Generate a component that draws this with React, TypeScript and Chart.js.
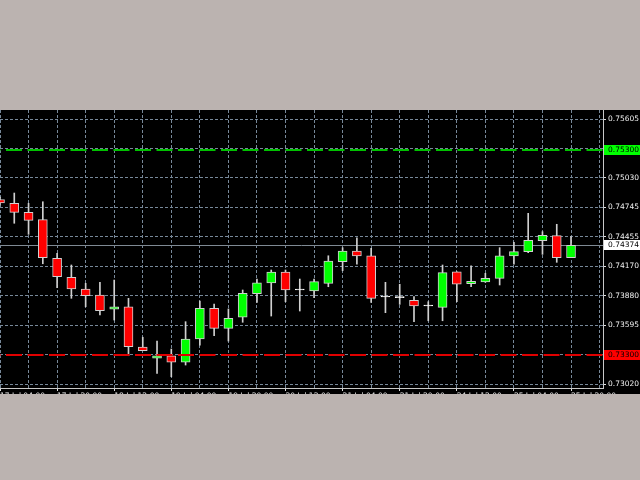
import React, { useEffect, useRef } from 'react';
import Chart from 'chart.js/auto';

// H4 candles (index 0 is the half-hidden one at the left edge)
const opens = [
  0.74820, 0.74783, 0.74695, 0.74623, 0.74246, 0.74061, 0.73947, 0.73888, 0.73749, 0.73774,
  0.73381, 0.73271, 0.73296, 0.73232, 0.73459, 0.73758, 0.73563, 0.73671, 0.73901, 0.74005,
  0.74113, 0.73937, 0.73927, 0.74002, 0.74213, 0.74317, 0.74271, 0.73869, 0.73862, 0.73836,
  0.73781, 0.73768, 0.74115, 0.73998, 0.74015, 0.74051, 0.74269, 0.74311, 0.74418, 0.74467,
  0.74252,
];
const highs = [
  0.74844, 0.74883, 0.74783, 0.74798, 0.74295, 0.74181, 0.74002, 0.74012, 0.74034, 0.73856,
  0.73476, 0.73439, 0.73361, 0.73628, 0.73830, 0.73800, 0.73752, 0.73937, 0.74044, 0.74132,
  0.74132, 0.74044, 0.74044, 0.74271, 0.74350, 0.74447, 0.74344, 0.74012, 0.73993, 0.73872,
  0.73823, 0.74181, 0.74115, 0.74174, 0.74100, 0.74350, 0.74402, 0.74685, 0.74506, 0.74578,
  0.74457,
];
const lows = [
  0.74766, 0.74588, 0.74480, 0.74193, 0.73959, 0.73856, 0.73774, 0.73693, 0.73644, 0.73296,
  0.73345, 0.73124, 0.73091, 0.73205, 0.73400, 0.73491, 0.73439, 0.73622, 0.73817, 0.73683,
  0.73823, 0.73732, 0.73862, 0.73969, 0.74125, 0.74188, 0.73817, 0.73716, 0.73797, 0.73628,
  0.73637, 0.73637, 0.73823, 0.73969, 0.74012, 0.73986, 0.74188, 0.74301, 0.74285, 0.74207,
  0.74252,
];
const closes = [
  0.74786, 0.74695, 0.74617, 0.74252, 0.74067, 0.73947, 0.73881, 0.73735, 0.73774, 0.73384,
  0.73345, 0.73296, 0.73232, 0.73459, 0.73758, 0.73563, 0.73661, 0.73905, 0.74008, 0.74113,
  0.73937, 0.73937, 0.74018, 0.74220, 0.74317, 0.74269, 0.73856, 0.73869, 0.73862, 0.73781,
  0.73781, 0.74106, 0.73993, 0.74022, 0.74051, 0.74271, 0.74311, 0.74422, 0.74471, 0.74252,
  0.74374,
];

// one time label every 4 candles
const xLabels = [
  '17 Jul 04:00', '17 Jul 20:00', '18 Jul 12:00', '19 Jul 04:00', '19 Jul 20:00', '20 Jul 12:00',
  '21 Jul 04:00', '21 Jul 20:00', '24 Jul 12:00', '25 Jul 04:00', '25 Jul 20:00',
];
const yTicks = [0.75605, 0.75318, 0.75030, 0.74745, 0.74455, 0.74170, 0.73880, 0.73595, 0.73308, 0.73020];
const hiddenTicks = [0.75318, 0.73308];

const levelHigh = 0.75300;
const levelLow = 0.73300;
const lastPrice = 0.74374;

const FONT = '"DejaVu Sans", sans-serif';
const GRID = '#778899';

function candleColor(i: number) {
  const o = opens[i], c = closes[i];
  if (c > o) return '#00ff00';
  if (c < o) return '#ff0000';
  return '#ffffff';
}

function hLine(chart: any, value: number, color: string, dash: number[], width: number) {
  const { ctx, chartArea, scales } = chart;
  let y = Math.round(scales.y.getPixelForValue(value));
  if (width % 2 === 1) y += 0.5;
  ctx.save();
  ctx.beginPath();
  ctx.rect(chartArea.left, chartArea.top, chartArea.right - chartArea.left, chartArea.bottom - chartArea.top);
  ctx.clip();
  ctx.beginPath();
  ctx.strokeStyle = color;
  ctx.lineWidth = width;
  ctx.setLineDash(dash);
  ctx.lineDashOffset = 15.5;
  ctx.moveTo(chartArea.left, y);
  ctx.lineTo(chartArea.right, y);
  ctx.stroke();
  ctx.restore();
}

function priceBox(chart: any, value: number, bg: string, fg: string) {
  const { ctx, chartArea, scales, width } = chart;
  const y = Math.round(scales.y.getPixelForValue(value));
  ctx.save();
  ctx.fillStyle = bg;
  ctx.fillRect(chartArea.right + 1, y - 5, width - chartArea.right - 1, 10);
  ctx.fillStyle = fg;
  ctx.font = '7.5px ' + FONT;
  ctx.textBaseline = 'middle';
  ctx.textAlign = 'left';
  ctx.fillText(value.toFixed(5), chartArea.right + 5, y);
  ctx.restore();
}

const levelsPlugin = {
  id: 'levels',
  beforeDatasetsDraw(chart: any) {
    hLine(chart, lastPrice, '#7f8a94', [], 1);
  },
  afterDatasetsDraw(chart: any) {
    hLine(chart, levelHigh, '#00c000', [16, 5.5], 2);
    hLine(chart, levelLow, '#e00000', [16, 5.5], 2);
  },
  afterDraw(chart: any) {
    priceBox(chart, levelHigh, '#00ff00', '#000000');
    priceBox(chart, lastPrice, '#ffffff', '#000000');
    priceBox(chart, levelLow, '#ff0000', '#000000');
  },
};

export default function App() {
  const canvasRef = useRef<HTMLCanvasElement | null>(null);

  useEffect(() => {
    const ctx = canvasRef.current!.getContext('2d');
    const idx = opens.map((_, i) => i);
    const chart = new Chart(ctx!, {
      type: 'bar',
      data: {
        datasets: [
          {
            label: 'body',
            data: idx.map(i => ({ x: i, y: [opens[i], closes[i]] })) as any,
            backgroundColor: idx.map(candleColor),
            borderColor: idx.map(i => (opens[i] === closes[i] ? '#ffffff' : '#d0d0d0')),
            borderWidth: 1,
            borderSkipped: false,
            barThickness: 9,
            minBarLength: 1,
            grouped: false,
          },
          {
            label: 'wick',
            data: idx.map(i => ({ x: i, y: [lows[i], highs[i]] })) as any,
            backgroundColor: '#d0d0d0',
            borderWidth: 0,
            barThickness: 1,
            grouped: false,
          },
        ],
      },
      options: {
        animation: false,
        responsive: false,
        layout: { padding: 0 },
        plugins: { legend: { display: false }, tooltip: { enabled: false } },
        scales: {
          x: {
            type: 'linear',
            min: 0,
            max: 42.24,
            offset: false,
            grid: {
              offset: false,
              color: GRID,
              lineWidth: 1,
              tickLength: 3,
              tickColor: (c: any) => (c.tick && c.tick.value % 4 === 0 ? '#e0e0e0' : 'rgba(0,0,0,0)'),
            },
            border: { display: true, color: '#c8c8c8', width: 1, dash: [3, 2] },
            ticks: {
              autoSkip: false,
              maxRotation: 0,
              align: 'start',
              padding: 1,
              color: '#f0f0f0',
              font: { family: FONT, size: 7.5 },
              callback: (v: any) => (v % 4 === 0 ? xLabels[v / 4] ?? '' : ''),
            },
            afterBuildTicks: (s: any) => {
              const t = [];
              for (let v = 0; v <= 42; v += 2) t.push({ value: v });
              s.ticks = t;
            },
            afterFit: (s: any) => {
              s.height = 6;
              s.paddingLeft = 0;
              s.paddingRight = 0;
            },
          },
          y: {
            type: 'linear',
            position: 'right',
            min: 0.72981,
            max: 0.75693,
            beginAtZero: false,
            grid: { color: GRID, lineWidth: 1, tickLength: 3, tickColor: '#e0e0e0' },
            border: { display: true, color: '#c8c8c8', width: 1, dash: [3, 2] },
            ticks: {
              autoSkip: false,
              padding: 2,
              color: '#f0f0f0',
              font: { family: FONT, size: 7.5 },
              callback: (v: any) => (hiddenTicks.some(h => Math.abs(h - v) < 1e-7) ? '' : Number(v).toFixed(5)),
            },
            afterBuildTicks: (s: any) => {
              s.ticks = yTicks.map(v => ({ value: v }));
            },
            afterFit: (s: any) => {
              s.width = 37;
              s.paddingTop = 0;
              s.paddingBottom = 0;
            },
          },
        },
      } as any,
      plugins: [levelsPlugin],
    });
    return () => chart.destroy();
  }, []);

  return (
    <div style={{ position: 'fixed', left: 0, top: 0, width: 640, height: 480, background: '#bbb3b0' }}>
      <div style={{ position: 'absolute', left: 0, top: 110, width: 640, height: 284, background: '#000' }}>
        <canvas ref={canvasRef} width={640} height={284} style={{ display: 'block' }}></canvas>
      </div>
    </div>
  );
}
